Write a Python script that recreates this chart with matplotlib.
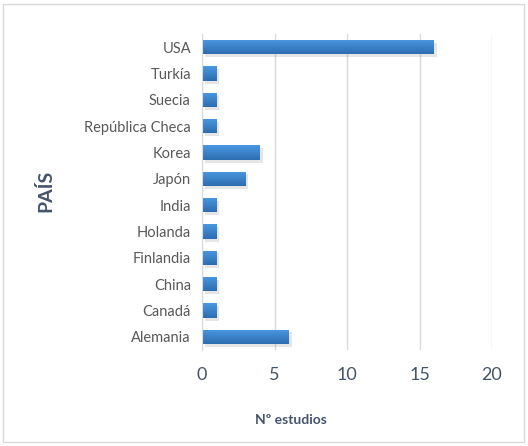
import numpy as np
import matplotlib
matplotlib.use('Agg')
import matplotlib.pyplot as plt
import matplotlib.patheffects as pe
from matplotlib.patches import Rectangle

paises = ['Alemania', 'Canadá', 'China', 'Finlandia', 'Holanda', 'India',
          'Japón', 'Korea', 'República Checa', 'Suecia', 'Turkía', 'USA']
estudios = [6, 1, 1, 1, 1, 1, 3, 4, 1, 1, 1, 16]
xticks = [0, 5, 10, 15, 20]

plt.rcParams['font.family'] = ['Lato', 'DejaVu Sans']

fig = plt.figure(figsize=(5.28, 4.46), dpi=100)
ax = fig.add_axes([202/528, 1-350/446, 290/528, 316/446])

# light frame round the chart area
fig.patches.append(Rectangle((3/528, 4/446), 521/528, 438/446, transform=fig.transFigure,
                             fill=False, edgecolor='#D9D9D9', linewidth=1))

y = np.arange(len(paises))
bars = ax.barh(y, estudios, height=0.55, color='#3A82CC', zorder=3,
               path_effects=[pe.SimplePatchShadow(offset=(2, -2), shadow_rgbFace='#999999', alpha=0.25),
                             pe.Normal()])

# vertical gradient on each bar, lighter on top
grad = np.linspace(0, 1, 64).reshape(-1, 1)
cmap = matplotlib.colors.LinearSegmentedColormap.from_list('azul', ['#4A99E2', '#2E6CB0'])
for b in bars:
    x0, y0 = b.get_x(), b.get_y()
    w, h = b.get_width(), b.get_height()
    im = ax.imshow(grad, cmap=cmap, aspect='auto', extent=(x0, x0 + w, y0, y0 + h),
                   zorder=4, interpolation='bilinear')
    im.set_clip_path(b)

ax.set_xlim(0, 20)
ax.set_ylim(-0.5, len(paises) - 0.5)
ax.set_xticks(xticks)
ax.set_yticks(y)
ax.set_yticklabels(paises, fontsize=10.5, color='#595959')
ax.tick_params(axis='x', labelsize=13, colors='#44546A', length=0, pad=12)
ax.tick_params(axis='y', length=0, pad=8)
ax.grid(axis='x', color='#D9D9D9', linewidth=1, zorder=0)
for s in ['top', 'right', 'bottom']:
    ax.spines[s].set_visible(False)
ax.spines['left'].set_color('#D9D9D9')
ax.spines['left'].set_zorder(5)

fig.text(291/528, 1-420/446, 'Nº estudios', fontsize=10, fontweight='bold',
         color='#44546A', ha='center', va='center')
fig.text(45/528, 1-191/446, 'PAÍS', rotation=90, fontsize=14, fontweight='bold',
         color='#44546A', ha='center', va='center')

fig.savefig('out.png', dpi=100)
